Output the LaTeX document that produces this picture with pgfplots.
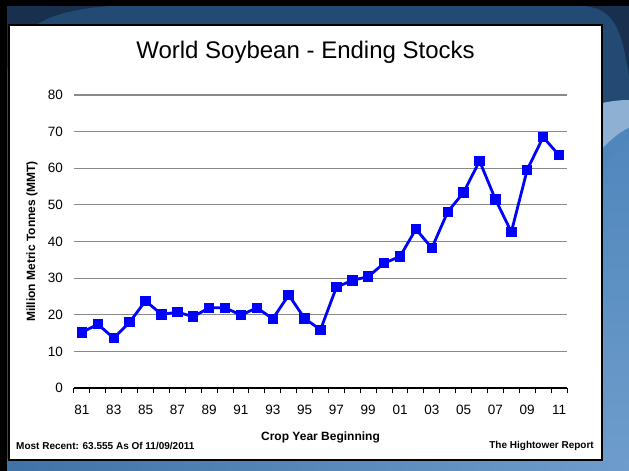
\documentclass[border=0pt]{standalone}
\usepackage{pgfplots}
\pgfplotsset{compat=1.18}
\usepackage{fontspec}
\setmainfont{Liberation Sans}
\definecolor{navy}{HTML}{234A73}
\definecolor{navydark}{HTML}{18304D}
\definecolor{skyA}{HTML}{3F72A6}
\definecolor{skyB}{HTML}{6E9DCB}
\definecolor{skyM}{HTML}{4F86BC}
\definecolor{skyL}{HTML}{8DB0D3}
\definecolor{gridgray}{HTML}{8A8A8A}

\pgfplotstableread{
x y
0 15.2
1 17.4
2 13.6
3 18.0
4 23.8
5 20.1
6 20.7
7 19.5
8 21.9
9 21.9
10 19.9
11 21.9
12 18.9
13 25.4
14 19.0
15 15.9
16 27.5
17 29.4
18 30.4
19 34.1
20 35.9
21 43.4
22 38.2
23 48.1
24 53.4
25 62.0
26 51.5
27 42.6
28 59.6
29 68.5
30 63.555
}\stocks

\begin{document}
\begin{tikzpicture}
\useasboundingbox (0pt,0pt) rectangle (629pt,471pt);
% slide background
\fill[navy] (0pt,0pt) rectangle (629pt,471pt);
\fill[navydark] (7pt,465pt) -- (7pt,400pt) .. controls (15pt,440pt) and (40pt,460pt) .. (110pt,465pt) -- cycle;
\fill[navydark] (585pt,465pt) .. controls (615pt,462pt) and (622pt,440pt) .. (629pt,395pt) -- (629pt,465pt) -- cycle;
\shade[top color=skyM, bottom color=skyB] (602pt,0pt) rectangle (629pt,340pt);
\fill[skyL] (602pt,368pt) .. controls (612pt,370pt) and (620pt,371pt) .. (629pt,371pt)
  -- (629pt,343pt) .. controls (618pt,338pt) and (610pt,330pt) .. (602pt,322pt) -- cycle;
\fill[skyM] (602pt,322pt) .. controls (610pt,330pt) and (618pt,338pt) .. (629pt,343pt) -- (629pt,335pt) -- (602pt,300pt) -- cycle;
\shade[left color=skyA, right color=skyB] (0pt,0pt) rectangle (629pt,11pt);
\fill[black] (0pt,465pt) rectangle (629pt,471pt);
\fill[black] (0pt,0pt) rectangle (7pt,471pt);
\draw[black, line width=1.2pt, fill=white] (9pt,11pt) rectangle (602pt,446pt);

\begin{axis}[
  scale only axis, width=493pt, height=293pt,
  at={(74pt,83pt)}, anchor=south west,
  xmin=-0.5, xmax=30.5, ymin=0, ymax=80,
  axis lines*=left,
  x axis line style={black, line width=1.3pt},
  y axis line style={draw=none},
  ytick={0,10,...,80},
  xtick={0,2,...,30},
  xticklabels={81,83,85,87,89,91,93,95,97,99,01,03,05,07,09,11},
  minor xtick={-0.5,0.5,...,30.5},
  major tick length=0pt, minor tick length=5.5pt, tick align=outside,
  minor tick style={black, line width=1pt},
  ymajorgrids,
  major grid style={gridgray, line width=1.2pt},
  /pgf/number format/assume math mode=true,
  ticklabel style={font=\fontsize{13.5}{15}\selectfont},
  xticklabel style={yshift=-14pt},
  yticklabel style={xshift=-7.5pt},
  title={World Soybean - Ending Stocks},
  title style={font=\fontsize{24}{28}\selectfont, at={(axis description cs:0.4696,1.126)}, anchor=center},
  xlabel={Crop Year Beginning},
  xlabel style={font=\bfseries\fontsize{12}{14}\selectfont, at={(axis description cs:0.5,-0.167)}, anchor=center},
  ylabel={Million Metric Tonnes (MMT)},
  ylabel style={font=\bfseries\fontsize{12}{14}\selectfont, at={(axis description cs:-0.0852,0.5)}, anchor=center},
  clip=false,
]
\addplot[color=blue, line width=2.8pt, mark=square*, mark size=3.8pt,
  mark options={solid}] table[x=x, y=y] {\stocks};
\end{axis}

\node[anchor=west, font=\bfseries\fontsize{10}{12}\selectfont, inner sep=0pt] at (16pt,25pt) {Most Recent: 63.555 As Of 11/09/2011};
\node[anchor=east, font=\bfseries\fontsize{10}{12}\selectfont, inner sep=0pt] at (594pt,25pt) {The Hightower Report};
\end{tikzpicture}
\end{document}
